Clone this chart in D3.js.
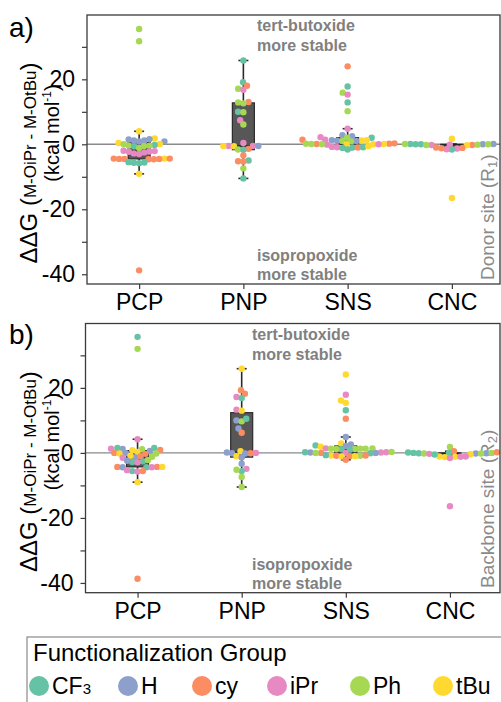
<!DOCTYPE html>
<html><head><meta charset="utf-8">
<script src="https://cdn.jsdelivr.net/npm/d3@7"></script>
<style>body{margin:0;background:#fff} svg{display:block;font-family:"Liberation Sans",Arial,sans-serif}</style>
</head><body><svg id="c" width="501" height="702"></svg>
<script>
const categories = ["PCP","PNP","SNS","CNC"];
const groups = ["CF3","H","cy","iPr","Ph","tBu"];
const groupColors = ["#66c2a5","#8da0cb","#fc8d62","#e78ac3","#a6d854","#ffd92f"];
const yTicks = [-40,-30,-20,-10,0,10,20,30];
const yTickLabels = ["-40","","-20","","0","","20",""];

// Panel a) donor site (R1): [group, ΔΔG kcal/mol]
const donorPCP = [["Ph",35.5],["Ph",31.7],["tBu",4.0],
 ["tBu",1.8],["H",1.6],["H",1.5],["H",1.2],["H",1.2],["H",0.9],["H",0.9],
 ["tBu",0.4],["tBu",0.1],["Ph",0.0],["CF3",-0.2],["Ph",-0.4],["Ph",-0.4],["Ph",-0.5],["CF3",-0.6],["Ph",-1.1],
 ["iPr",-2.0],["iPr",-2.1],["iPr",-2.2],["iPr",-2.3],["iPr",-2.5],["iPr",-2.8],["iPr",-3.0],
 ["tBu",-4.4],["cy",-4.4],["cy",-4.4],["cy",-4.5],["cy",-4.5],["cy",-4.5],["cy",-4.6],["cy",-4.6],
 ["CF3",-5.5],["CF3",-5.6],["CF3",-5.7],["CF3",-5.8],["tBu",-9.1],["cy",-38.8]];
const donorPNP = [["CF3",25.8],["CF3",19.1],["cy",18.0],["Ph",17.1],["iPr",16.8],
 ["cy",13.0],["Ph",12.9],["Ph",12.6],["CF3",10.0],["Ph",9.9],["iPr",7.4],["Ph",6.1],
 ["iPr",0.4],["iPr",-0.5],["iPr",-0.5],["H",-0.5],["tBu",-0.5],["tBu",-0.6],
 ["cy",-1.4],["Ph",-1.6],["CF3",-1.7],
 ["cy",-3.4],["CF3",-5.0],["cy",-5.2],["cy",-5.3],["Ph",-7.4],["CF3",-10.5]];
const donorSNS = [["cy",24.0],["CF3",17.8],["Ph",15.9],["iPr",15.3],["CF3",12.9],["Ph",10.2],["iPr",4.8],
 ["H",2.8],["H",2.5],["iPr",2.2],["Ph",2.0],["CF3",2.0],
 ["H",1.3],["iPr",1.4],["H",1.1],["Ph",1.0],["tBu",1.2],["H",1.0],["tBu",1.3],["cy",1.4],["Ph",0.9],
 ["cy",0.1],["tBu",0.0],["iPr",-0.1],["cy",0.2],["tBu",0.1],["tBu",0.0],["Ph",0.0],["cy",0.3],["Ph",0.2],["iPr",0.0],["Ph",0.1],
 ["iPr",-0.9],["iPr",-0.8],["CF3",-1.0],["CF3",-1.6],["CF3",-1.1],["cy",-1.0],["CF3",-0.9],["tBu",-0.6]];
const donorCNC = [["tBu",1.7],["CF3",0.1],["iPr",-0.1],["iPr",-0.2],["cy",-0.2],["tBu",-0.3],["CF3",0.0],["H",0.1],["H",0.0],
 ["Ph",-0.1],["CF3",0.0],["Ph",0.0],["Ph",0.1],["Ph",-0.2],
 ["iPr",-1.3],["CF3",-1.6],["iPr",-1.5],["cy",-1.2],["cy",-1.1],["cy",-1.0],["tBu",-16.5]];

// Panel b) backbone site (R2)
const backbonePCP = [["CF3",35.7],["Ph",32.0],["iPr",4.2],
 ["H",1.2],["cy",0.9],["H",0.6],["CF3",1.5],["iPr",1.3],["CF3",1.5],["tBu",0.8],["Ph",1.1],
 ["cy",0.0],["tBu",-0.2],["cy",-0.3],["Ph",-0.2],["H",-0.1],["tBu",0.3],
 ["Ph",-1.2],["iPr",-1.5],["H",-1.4],["cy",-1.0],["tBu",-0.9],
 ["CF3",-2.6],["CF3",-2.8],["H",-2.4],["iPr",-2.9],["Ph",-2.2],
 ["cy",-4.3],["cy",-4.3],["CF3",-4.4],["iPr",-4.4],["H",-4.4],["tBu",-4.3],
 ["CF3",-5.6],["iPr",-5.7],["cy",-5.6],["iPr",-5.3],["tBu",-9.0],["cy",-38.7]];
const backbonePNP = [["tBu",25.9],["cy",19.3],["cy",18.2],["iPr",17.2],["CF3",16.9],
 ["iPr",13.3],["tBu",13.0],["H",10.0],["Ph",9.7],["CF3",10.5],["H",7.5],["cy",6.2],
 ["tBu",0.5],["iPr",0.0],["cy",-0.1],["H",-0.2],["H",-0.1],["H",0.1],["tBu",-1.0],["H",-1.4],
 ["H",-3.3],["iPr",-4.9],["CF3",-5.6],["Ph",-5.2],["Ph",-7.4],["Ph",-10.5]];
const backboneSNS = [["tBu",24.1],["iPr",17.9],["tBu",16.1],["tBu",15.4],["CF3",13.1],["cy",10.5],["H",4.9],
 ["tBu",2.9],["H",2.6],["CF3",2.3],["H",2.1],["tBu",1.9],
 ["iPr",1.4],["Ph",1.3],["Ph",1.2],["CF3",1.0],["Ph",1.3],["Ph",1.4],["Ph",1.3],["CF3",1.1],["Ph",1.2],
 ["iPr",0.2],["iPr",0.1],["iPr",0.0],["cy",0.0],["H",0.0],["H",0.1],["CF3",0.2],["CF3",-0.1],["Ph",0.3],["Ph",0.0],
 ["tBu",-0.8],["cy",-0.9],["cy",-1.0],["tBu",-1.1],["Ph",-0.9],["cy",-0.8],["CF3",-0.7],["tBu",-1.0],["cy",-2.1]];
const backboneCNC = [["Ph",1.8],["cy",0.5],["CF3",0.1],["CF3",0.0],["CF3",0.0],["CF3",-0.1],["H",-0.1],["H",-0.2],["Ph",0.0],["Ph",-0.2],["Ph",-0.2],
 ["cy",0.2],["iPr",-0.3],["tBu",-0.4],["tBu",-1.1],["tBu",-1.2],["tBu",-1.3],["iPr",-1.2],["iPr",-1.6],["iPr",-1.1],["CF3",-0.5],["iPr",-16.4]];

const panels = [
  {tag:"a)", site:"Donor site (R", sub:"1", sets:[donorPCP,donorPNP,donorSNS,donorCNC],
   left:87, right:504, top:15, bottom:284, tagY:37, annX:257, siteY:280},
  {tag:"b)", site:"Backbone site (R", sub:"2", sets:[backbonePCP,backbonePNP,backboneSNS,backboneCNC],
   left:85.5, right:502, top:323.5, bottom:592.7, tagY:344, annX:252, siteY:588}
];

const color = d3.scaleOrdinal().domain(groups).range(groupColors);
const svg = d3.select("#c");
const R = 3.2, D = 5.3;

function swarm(set, y) {
  const pts = set.map((p,i)=>({g:p[0], v:p[1], i, py:y(p[1])}));
  const order = pts.slice().sort((a,b)=> a.v - b.v);
  const placed = [];
  for (const p of order) {
    const cands = [0];
    for (const q of placed) {
      const dy = p.py - q.py;
      if (Math.abs(dy) < D) { const dx = Math.sqrt(D*D - dy*dy); cands.push(q.x + dx, q.x - dx); }
    }
    cands.sort((a,b)=> Math.abs(a)-Math.abs(b) || a-b);
    for (const c of cands) {
      if (placed.every(q => (q.x-c)**2 + (q.py-p.py)**2 >= D*D - 0.01)) { p.x = c; break; }
    }
    placed.push(p);
  }
  return pts;
}

panels.forEach(P => {
  const g = svg.append("g");
  const x = d3.scalePoint().domain(categories).range([P.left, P.right]).padding(0.5);
  const y = d3.scaleLinear().domain([-43.0, 39.8]).range([P.bottom, P.top]);

  g.append("line").attr("x1",P.left).attr("x2",500).attr("y1",y(0)).attr("y2",y(0))
    .attr("stroke","#8a8a8a").attr("stroke-width",1.4);

  const ann = g.append("g").attr("fill","#808080").attr("font-weight","bold").attr("font-size",16);
  ann.append("text").attr("x",P.annX).attr("y",P.top+16).text("tert-butoxide");
  ann.append("text").attr("x",P.annX).attr("y",P.top+36).text("more stable");
  ann.append("text").attr("x",P.annX).attr("y",P.bottom-23).text("isopropoxide");
  ann.append("text").attr("x",P.annX).attr("y",P.bottom-4).text("more stable");

  const st = g.append("text").attr("transform",`translate(494,${P.siteY}) rotate(-90)`)
    .attr("fill","#8a8a8a").attr("font-size",19);
  st.append("tspan").text(P.site);
  st.append("tspan").attr("font-size",13).attr("dy",3).text(P.sub);
  st.append("tspan").attr("dy",-3).text(")");

  categories.forEach((cat, ci) => {
    const set = P.sets[ci];
    const vals = set.map(d=>d[1]).sort(d3.ascending);
    const q1 = d3.quantile(vals,0.25), med = d3.quantile(vals,0.5), q3 = d3.quantile(vals,0.75);
    const iqr = q3 - q1;
    const hi = d3.max(vals.filter(v=>v <= q3 + 1.5*iqr));
    const lo = d3.min(vals.filter(v=>v >= q1 - 1.5*iqr));
    const cx = x(cat), bw = 22, cw = 10;
    const bg = g.append("g").attr("stroke","#2b2b2b");
    bg.append("line").attr("x1",cx).attr("x2",cx).attr("y1",y(hi)).attr("y2",y(q3)).attr("stroke-width",1.6);
    bg.append("line").attr("x1",cx).attr("x2",cx).attr("y1",y(q1)).attr("y2",y(lo)).attr("stroke-width",1.6);
    bg.append("line").attr("x1",cx-cw/2).attr("x2",cx+cw/2).attr("y1",y(hi)).attr("y2",y(hi)).attr("stroke-width",1.6);
    bg.append("line").attr("x1",cx-cw/2).attr("x2",cx+cw/2).attr("y1",y(lo)).attr("y2",y(lo)).attr("stroke-width",1.6);
    bg.append("rect").attr("x",cx-bw/2).attr("width",bw).attr("y",y(q3)).attr("height",Math.max(1,y(q1)-y(q3)))
      .attr("fill","#575757").attr("stroke-width",1.2);
    bg.append("line").attr("x1",cx-bw/2).attr("x2",cx+bw/2).attr("y1",y(med)).attr("y2",y(med)).attr("stroke","#222").attr("stroke-width",1.4);

    const pts = swarm(set, y);
    g.append("g").selectAll("circle").data(pts).join("circle")
      .attr("cx", d => cx + d.x).attr("cy", d => d.py).attr("r", R)
      .attr("fill", d => color(d.g));
  });

  g.append("rect").attr("x",P.left).attr("y",P.top).attr("width",500-P.left).attr("height",P.bottom-P.top)
    .attr("fill","none").attr("stroke","#3a3a3a").attr("stroke-width",1.3);

  const yAx = g.append("g").attr("transform",`translate(${P.left},0)`)
    .call(d3.axisLeft(y).tickValues(yTicks).tickFormat((d,i)=>yTickLabels[i]).tickSize(5).tickPadding(7));
  yAx.select(".domain").remove();
  yAx.selectAll("text").attr("font-size",23).attr("fill","#000").attr("font-family","Liberation Sans, Arial, sans-serif");
  yAx.selectAll("line").attr("stroke","#3a3a3a").attr("stroke-width",1.2);

  const xAx = g.append("g").attr("transform",`translate(0,${P.bottom})`)
    .call(d3.axisBottom(x).tickSize(5).tickPadding(5));
  xAx.select(".domain").remove();
  xAx.selectAll("text").attr("font-size",23).attr("fill","#000").attr("font-family","Liberation Sans, Arial, sans-serif");
  xAx.selectAll("line").attr("stroke","#3a3a3a").attr("stroke-width",1.2);

  g.append("text").attr("x",9).attr("y",P.tagY).attr("font-size",28).text(P.tag);

  const mid = (P.top + P.bottom)/2;
  const t1 = g.append("text").attr("transform",`translate(37,${mid+13.5}) rotate(-90)`).attr("text-anchor","middle");
  t1.append("tspan").attr("font-size",24).text("ΔΔG (");
  t1.append("tspan").attr("font-size",17).attr("dy",-1).text("M-OiPr - M-OtBu");
  t1.append("tspan").attr("font-size",24).attr("dy",1).text(")");
  const t2 = g.append("text").attr("transform",`translate(59,${mid-16.5}) rotate(-90)`).attr("text-anchor","middle").attr("font-size",20);
  t2.append("tspan").text("(kcal mol");
  t2.append("tspan").attr("font-size",12).attr("dy",-8).text("-1");
  t2.append("tspan").attr("dy",8).text(")");
});

const lg = svg.append("g");
lg.append("rect").attr("x",27).attr("y",637).attr("width",490).attr("height",90)
  .attr("fill","none").attr("stroke","#8a8a8a").attr("stroke-width",1.2);
lg.append("text").attr("x",33).attr("y",661).attr("font-size",24).text("Functionalization Group");
const legX = [39,128,202,277,360,443];
groups.forEach((gr,i) => {
  lg.append("circle").attr("cx",legX[i]).attr("cy",686).attr("r",10).attr("fill",color(gr));
  const t = lg.append("text").attr("x",legX[i]+13).attr("y",694).attr("font-size",23);
  if (gr === "CF3") { t.append("tspan").text("CF"); t.append("tspan").attr("font-size",15).text("3"); }
  else t.text(gr);
});
</script></body></html>
